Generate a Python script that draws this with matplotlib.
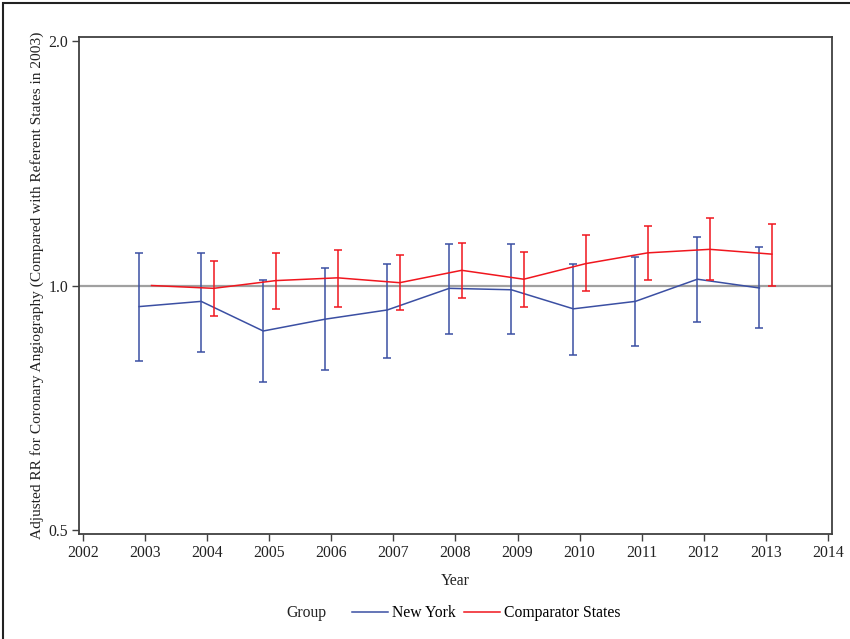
import numpy as np
import matplotlib.pyplot as plt
from matplotlib.lines import Line2D
from matplotlib.patches import Rectangle

plt.rcParams['font.family'] = ['Liberation Serif', 'DejaVu Serif']

years = [2003, 2004, 2005, 2006, 2007, 2008, 2009, 2010, 2011, 2012, 2013]

# New York: adjusted RR and 95% CI
ny_rr = [0.942, 0.956, 0.879, 0.909, 0.933, 0.992, 0.988, 0.936, 0.956, 1.018, 0.993]
ny_lo = [0.807, 0.828, 0.761, 0.787, 0.815, 0.872, 0.872, 0.822, 0.843, 0.902, 0.886]
ny_hi = [1.096, 1.096, 1.016, 1.052, 1.064, 1.124, 1.124, 1.062, 1.083, 1.148, 1.115]

# comparator states (2003 is the referent, no interval)
cs_rr = [1.000, 0.992, 1.014, 1.022, 1.008, 1.044, 1.018, 1.064, 1.097, 1.108, 1.093]
cs_lo = [1.000, 0.916, 0.936, 0.942, 0.932, 0.966, 0.942, 0.984, 1.016, 1.015, 1.000]
cs_hi = [1.000, 1.071, 1.096, 1.107, 1.091, 1.128, 1.100, 1.154, 1.185, 1.210, 1.191]

blue = '#3b4fa3'
red = '#f0161e'

fig = plt.figure(figsize=(8.5, 6.39), dpi=100)
ax = fig.add_axes([79.3 / 850, 1 - 533.7 / 639, (832 - 79.3) / 850, (533.7 - 37) / 639])

x = np.array(years, dtype=float)
offset = 0.1

def draw_bars(xs, rr, lo, hi, color):
    rr = np.array(rr)
    err = np.array([rr - np.array(lo), np.array(hi) - rr])
    ax.errorbar(xs, rr, yerr=err, fmt='none', ecolor=color, elinewidth=1.1,
                capsize=3, capthick=1.1, zorder=3)

ax.axhline(1.0, color='#a0a0a0', lw=1.6, zorder=1)
ax.plot(x - offset, ny_rr, color=blue, lw=1.1, zorder=3)
draw_bars(x - offset, ny_rr, ny_lo, ny_hi, blue)
ax.plot(x + offset, cs_rr, color=red, lw=1.1, zorder=3)
# referent year drawn without a bar
draw_bars(x[1:] + offset, cs_rr[1:], cs_lo[1:], cs_hi[1:], red)

ax.set_yscale('log')
ax.set_ylim(0.4948, 2.0228)
ax.set_yticks([0.5, 1.0, 2.0])
ax.set_yticklabels(['0.5', '1.0', '2.0'])
ax.yaxis.set_minor_locator(plt.NullLocator())
ax.set_xlim(2001.935, 2014.07)
ax.set_xticks(range(2002, 2015))

for s in ax.spines.values():
    s.set_color('#404040')
    s.set_linewidth(1.3)
ax.tick_params(direction='out', length=5, width=1, color='#404040',
               labelsize=11.3, labelcolor='#222222', pad=3)

ax.set_xlabel('Year', fontsize=11.3, color='#222222', labelpad=9)
ax.set_ylabel('Adjusted RR for Coronary Angiography (Compared with Referent States in 2003)',
              fontsize=11.1, color='#222222', labelpad=3)

# legend
fig.text(306 / 850, 1 - 613 / 639, 'Group', ha='center', va='center',
         fontsize=11.3, color='#222222')
handles = [Line2D([], [], color=blue, lw=1.1), Line2D([], [], color=red, lw=1.1)]
fig.legend(handles, ['New York', 'Comparator States'], loc='center',
           bbox_to_anchor=(486 / 850, 1 - 613 / 639), ncol=2, frameon=False,
           fontsize=11.3, handlelength=2.3, handletextpad=0.25,
           columnspacing=0.5, borderpad=0)

# outer frame, open on the right and bottom like the cropped original
fig.patches.append(Rectangle((3 / 850, -0.1), 1.2, 1.1 - 3 / 639,
                             transform=fig.transFigure, fill=False,
                             edgecolor='#222222', lw=1.5))

fig.savefig('out.png', dpi=100)
